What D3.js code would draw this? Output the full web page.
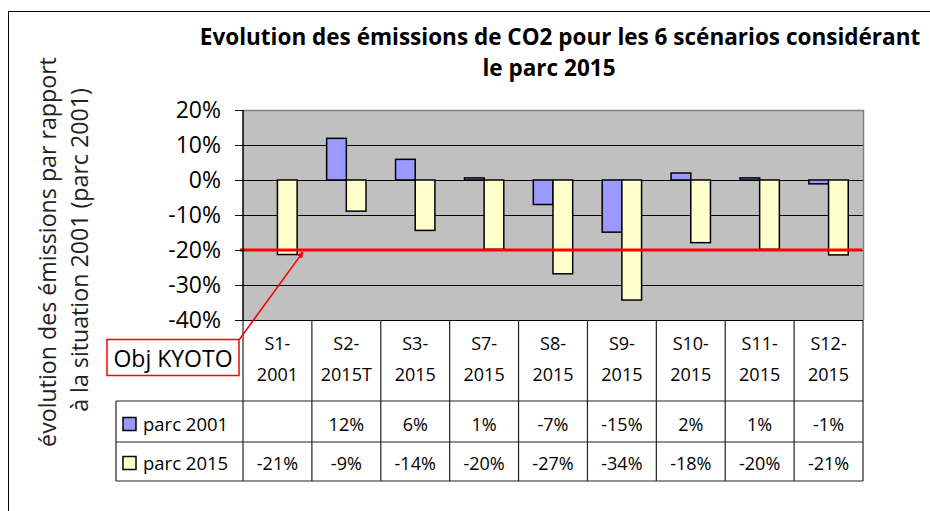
<!DOCTYPE html>
<html>
<head>
<meta charset="utf-8">
<script src="https://cdn.jsdelivr.net/npm/d3@7"></script>
<style>
  html, body { margin: 0; padding: 0; background: #fff; }
  svg { display: block; font-family: "Open Sans", sans-serif; }
</style>
</head>
<body>
<div id="chart"></div>
<script>
// data
const categories = ['S1-2001', 'S2-2015T', 'S3-2015', 'S7-2015', 'S8-2015', 'S9-2015', 'S10-2015', 'S11-2015', 'S12-2015'];
const parc2001 = [null, 0.119, 0.059, 0.006, -0.070, -0.149, 0.020, 0.006, -0.011];
const parc2015 = [-0.213, -0.089, -0.144, -0.198, -0.268, -0.343, -0.179, -0.198, -0.214];
const seriesNames = ['parc 2001', 'parc 2015'];
const seriesColors = ['#9999ff', '#ffffcc'];
const yTicks = [0.2, 0.1, 0, -0.1, -0.2, -0.3, -0.4];
const kyoto = -0.20;
const titleLines = ['Evolution des émissions de CO2 pour les 6 scénarios considérant', 'le parc 2015'];
const yTitleLines = ['évolution des émissions par rapport', 'à la situation 2001 (parc 2001)'];

(function () {
  const W = 930, H = 511;
  const plot = { left: 243, right: 863, top: 110, bottom: 320 };
  const rows = { cat: 320, s1: 401, s2: 442, end: 481 };
  const legendLeft = 116;

  const svg = d3.select('#chart').append('svg')
    .attr('width', W).attr('height', H)
    .attr('viewBox', `0 0 ${W} ${H}`);

  // hyphen minus, as in the picture
  const loc = d3.formatLocale({ decimal: '.', thousands: ',', grouping: [3], currency: ['', ''], minus: '-' });
  const pct = loc.format('.0%');

  // outer frame (runs off the picture right and bottom)
  svg.append('rect')
    .attr('x', 8.5).attr('y', 11.5).attr('width', 1000).attr('height', 600)
    .attr('fill', 'none').attr('stroke', '#000').attr('stroke-width', 1);

  // scales
  const x0 = d3.scaleBand().domain(categories).range([plot.left, plot.right]).padding(0);
  const x1 = d3.scaleBand().domain(seriesNames).range([0, x0.bandwidth()])
    .paddingInner(0).paddingOuter(0.75);
  const y = d3.scaleLinear().domain([-0.4, 0.2]).range([plot.bottom, plot.top]);

  // plot area
  svg.append('rect')
    .attr('x', plot.left).attr('y', plot.top)
    .attr('width', plot.right - plot.left).attr('height', plot.bottom - plot.top)
    .attr('fill', '#c0c0c0');

  // gridlines
  svg.append('g').selectAll('line').data(yTicks.filter(d => d < 0.2)).join('line')
    .attr('x1', plot.left).attr('x2', plot.right)
    .attr('y1', d => Math.round(y(d)) + 0.5).attr('y2', d => Math.round(y(d)) + 0.5)
    .attr('stroke', '#000').attr('stroke-width', 1);

  // top + right border of plot (gray)
  svg.append('path')
    .attr('d', `M${plot.left},${plot.top + 0.5}H${plot.right + 0.5}V${plot.bottom}`)
    .attr('fill', 'none').attr('stroke', '#808080').attr('stroke-width', 1.5);

  // bars
  const series = [parc2001, parc2015];
  const bars = [];
  categories.forEach((c, i) => {
    series.forEach((s, k) => {
      if (s[i] != null) bars.push({ cat: c, name: seriesNames[k], k, v: s[i] });
    });
  });
  svg.append('g').selectAll('rect').data(bars).join('rect')
    .attr('x', d => x0(d.cat) + x1(d.name))
    .attr('y', d => y(Math.max(0, d.v)))
    .attr('width', x1.bandwidth())
    .attr('height', d => Math.abs(y(d.v) - y(0)))
    .attr('fill', d => seriesColors[d.k])
    .attr('stroke', '#000').attr('stroke-width', 1.5);

  // Kyoto objective line
  svg.append('line')
    .attr('x1', plot.left - 3).attr('x2', plot.right - 1)
    .attr('y1', y(kyoto)).attr('y2', y(kyoto))
    .attr('stroke', '#ff0000').attr('stroke-width', 3.2);

  // y axis
  const yAxis = d3.axisLeft(y).tickValues(yTicks).tickSize(8).tickPadding(14).tickFormat(pct);
  const gy = svg.append('g').attr('transform', `translate(${plot.left},0)`).call(yAxis);
  gy.select('.domain').attr('stroke', '#000').attr('stroke-width', 1.5)
    .attr('d', `M0,${plot.top}V${plot.bottom}`);
  gy.selectAll('.tick line').attr('stroke', '#000');
  gy.selectAll('.tick text')
    .attr('font-family', '"Open Sans", sans-serif')
    .attr('font-size', 23).attr('fill', '#000');

  // data table
  const tbl = svg.append('g').attr('stroke', '#222').attr('stroke-width', 1.2);
  const bounds = categories.map(c => x0(c)).concat([plot.right]);
  tbl.selectAll('line.v').data(bounds).join('line').attr('class', 'v')
    .attr('x1', d => d).attr('x2', d => d)
    .attr('y1', rows.cat).attr('y2', rows.end);
  tbl.append('line').attr('x1', legendLeft).attr('x2', legendLeft).attr('y1', rows.s1).attr('y2', rows.end);
  [rows.s1, rows.s2, rows.end].forEach(yy => {
    tbl.append('line').attr('x1', legendLeft).attr('x2', plot.right).attr('y1', yy).attr('y2', yy);
  });

  // category labels, two lines
  const catG = svg.append('g').attr('font-size', 18).attr('text-anchor', 'middle').attr('fill', '#000');
  categories.forEach(c => {
    const cut = c.indexOf('-') + 1;
    const cx = x0(c) + x0.bandwidth() / 2;
    catG.append('text').attr('x', cx).attr('y', 343).attr('dominant-baseline', 'central').text(c.slice(0, cut));
    catG.append('text').attr('x', cx).attr('y', 374).attr('dominant-baseline', 'central').text(c.slice(cut));
  });

  // value rows + legend keys
  const rowMid = [(rows.s1 + rows.s2) / 2 + 2, (rows.s2 + rows.end) / 2 + 1];
  series.forEach((s, k) => {
    const g = svg.append('g').attr('font-size', 18).attr('fill', '#000');
    g.selectAll('text').data(categories.map((c, i) => ({ c, v: s[i] })).filter(d => d.v != null)).join('text')
      .attr('x', d => x0(d.c) + x0.bandwidth() / 2)
      .attr('y', rowMid[k])
      .attr('text-anchor', 'middle').attr('dominant-baseline', 'central')
      .text(d => pct(Math.round(d.v * 100) / 100));
    g.append('rect')
      .attr('x', 123).attr('y', rowMid[k] - 6).attr('width', 13).attr('height', 13)
      .attr('fill', seriesColors[k]).attr('stroke', '#000').attr('stroke-width', 1.5);
    g.append('text')
      .attr('x', 143).attr('y', rowMid[k])
      .attr('dominant-baseline', 'central').attr('font-size', 18.5)
      .text(seriesNames[k]);
  });

  // Obj KYOTO callout
  svg.append('defs').append('marker')
    .attr('id', 'arrow').attr('viewBox', '0 0 10 10')
    .attr('refX', 9).attr('refY', 5).attr('markerWidth', 4.5).attr('markerHeight', 4.5)
    .attr('orient', 'auto')
    .append('path').attr('d', 'M0,0L10,5L0,10Z').attr('fill', '#ff0000');
  svg.append('line')
    .attr('x1', 239).attr('y1', 340).attr('x2', 303).attr('y2', y(kyoto) + 2)
    .attr('stroke', '#ff0000').attr('stroke-width', 1.5)
    .attr('marker-end', 'url(#arrow)');
  svg.append('rect')
    .attr('x', 107).attr('y', 339.5).attr('width', 132).attr('height', 36)
    .attr('fill', '#fff').attr('stroke', '#ff0000').attr('stroke-width', 1.5);
  svg.append('text')
    .attr('x', 173).attr('y', 358).attr('text-anchor', 'middle')
    .attr('dominant-baseline', 'central').attr('font-size', 23)
    .text('Obj KYOTO');

  // title, sized so that line 1 spans the same width as the picture
  const t1 = svg.append('text').attr('x', 560).attr('y', 45).attr('text-anchor', 'middle')
    .attr('font-weight', 700).attr('font-size', 20).text(titleLines[0]);
  const tfs = 20 * 721 / t1.node().getComputedTextLength();
  t1.attr('font-size', tfs);
  svg.append('text').attr('x', 549).attr('y', 76).attr('text-anchor', 'middle')
    .attr('font-weight', 700).attr('font-size', tfs).text(titleLines[1]);

  // rotated y title
  const yc = 252;
  const y1 = svg.append('text').attr('transform', `translate(56,${yc}) rotate(-90)`)
    .attr('text-anchor', 'middle').attr('font-size', 20).attr('fill', '#222').text(yTitleLines[0]);
  const yfs = 20 * 390 / y1.node().getComputedTextLength();
  y1.attr('font-size', yfs);
  svg.append('text').attr('transform', `translate(88,${yc - 2}) rotate(-90)`)
    .attr('text-anchor', 'middle').attr('font-size', yfs).attr('fill', '#222').text(yTitleLines[1]);
})();
</script>
</body>
</html>
